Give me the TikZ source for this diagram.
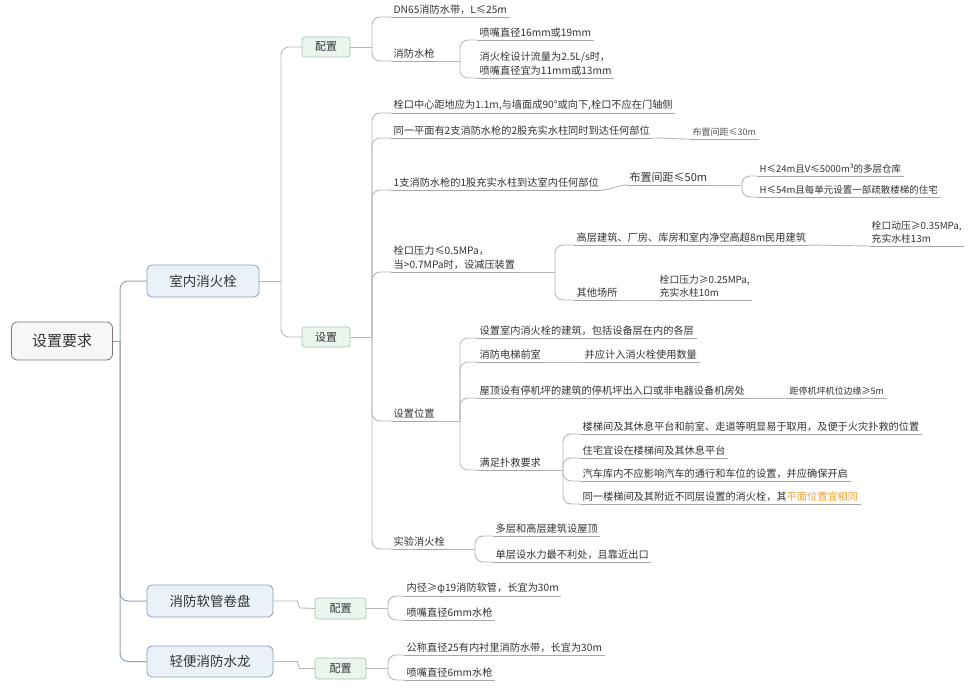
\documentclass[tikz,border=0pt]{standalone}
\usepackage{fontspec}
\setmainfont{Noto Sans CJK SC}
\definecolor{txt}{HTML}{333333}
\definecolor{txt2}{HTML}{555555}
\definecolor{orng}{HTML}{F0A23A}
\definecolor{ulc}{HTML}{A8A8A8}
\definecolor{brc}{HTML}{B8B8B8}
\definecolor{trc}{HTML}{8FA3B8}
\definecolor{rootc}{HTML}{7A7A7A}
\definecolor{rootf}{HTML}{F7F7F7}
\definecolor{l1c}{HTML}{8C9FB4}
\definecolor{l1f}{HTML}{EBF1F8}
\definecolor{l2c}{HTML}{A9C6B0}
\definecolor{l2f}{HTML}{EAF5ED}
\begin{document}
\begin{tikzpicture}[x=1pt,y=-1pt,
  every node/.style={text=txt},
  uline/.style={draw=ulc, line width=0.8pt},
  leaf/.style={anchor=south west, inner xsep=2.5pt, inner ysep=2.5pt,
     font=\fontsize{10.2}{14}\selectfont, align=left,
     append after command={(\tikzlastnode.south west) edge[uline] (\tikzlastnode.south east)}},
  br/.style={draw=brc, line width=0.9pt, rounded corners=8pt},
  trunk/.style={draw=trc, line width=1pt, rounded corners=8pt},
  rootbox/.style={draw=rootc, fill=rootf, rounded corners=6pt, line width=0.8pt,
     minimum width=101pt, minimum height=38pt, font=\fontsize{15}{18}\selectfont},
  l1box/.style={draw=l1c, fill=l1f, rounded corners=5pt, line width=0.8pt,
     minimum height=32pt, font=\fontsize{13.5}{16}\selectfont},
  l2box/.style={draw=l2c, fill=l2f, rounded corners=3pt, line width=0.7pt,
     minimum width=48pt, minimum height=20pt, font=\fontsize{11}{13}\selectfont},
]
\fill[white] (0,0) rectangle (974,698);
\useasboundingbox (0,0) rectangle (974,698);

% boxes
\node[rootbox] (root) at (62,341) {设置要求};
\node[l1box, minimum width=112pt] (snx) at (203,281) {室内消火栓};
\node[l1box, minimum width=126pt] (rgj) at (210,601) {消防软管卷盘};
\node[l1box, minimum width=126pt, minimum height=31pt] (qbs) at (210,661.5) {轻便消防水龙};
\node[l2box] (pz1) at (326,47) {配置};
\node[l2box] (sz) at (326,337) {设置};
\node[l2box, minimum width=51pt, minimum height=21pt] (pz2) at (340.5,608.5) {配置};
\node[l2box, minimum width=51pt, minimum height=21pt] (pz3) at (340.5,668.5) {配置};

% trunk
\draw[trunk] (root.east) -- (120,341);
\draw[trunk] (120,341) |- (snx.west);
\draw[trunk] (120,341) |- (rgj.west);
\draw[trunk] (120,341) |- (qbs.west);

\draw[br] (snx.east) -- (281,281);
\draw[br] (281,281) |- (pz1.west);
\draw[br] (281,281) |- (sz.west);

\draw[br] (rgj.east) -- ++(16,0) to[out=0,in=180] ++(18,7) -- (pz2.west);
\draw[br] (qbs.east) -- ++(16,0) to[out=0,in=180] ++(18,7) -- (pz3.west);

% 配置 (top)
\draw[br] (pz1.east) -- (372,47);
\node[leaf] (a1) at (391,17) {DN65消防水带，L≤25m};
\node[leaf] (a2) at (391,61) {消防水枪};
\draw[br] (372,47) |- (a1.south west);
\draw[br] (372,47) |- (a2.south west);
\draw[br] (a2.south east) -- (460,61);
\node[leaf] (a21) at (477,40) {喷嘴直径16mm或19mm};
\node[leaf] (a22) at (477,78) {消火栓设计流量为2.5L/s时，\\喷嘴直径宜为11mm或13mm};
\draw[br] (460,61) |- (a21.south west);
\draw[br] (460,61) |- (a22.south west);

% 设置
\draw[br] (sz.east) -- (372,337);
\node[leaf] (b1) at (391,113) {栓口中心距地应为1.1m,与墙面成90°或向下,栓口不应在门轴侧};
\node[leaf] (b2) at (391,138) {同一平面有2支消防水枪的2股充实水柱同时到达任何部位};
\node[leaf, font=\fontsize{9}{11}\selectfont, text=txt2] (b21) at (690,139) {布置间距≤30m};
\draw[br] (b2.south east) to[out=0,in=180] (b21.south west);
\node[leaf] (b3) at (391,190) {1支消防水枪的1股充实水柱到达室内任何部位};
\node[leaf, font=\fontsize{11}{13}\selectfont] (b31) at (627,185) {布置间距≤50m};
\draw[br] (b3.south east) to[out=0,in=180] (b31.south west);
\draw[br] (b31.south east) -- (742,185);
\node[leaf, font=\fontsize{9.5}{12}\selectfont] (b311) at (757,176) {H≤24m且V≤5000m³的多层仓库};
\node[leaf, font=\fontsize{9.5}{12}\selectfont] (b312) at (757,197) {H≤54m且每单元设置一部疏散楼梯的住宅};
\draw[br] (742,185) |- (b311.south west);
\draw[br] (742,185) |- (b312.south west);

\node[leaf] (b4) at (391,272) {栓口压力≤0.5MPa，\\当>0.7MPa时，设减压装置};
\draw[br] (b4.south east) -- (555,272);
\node[leaf] (b41) at (574,245) {高层建筑、厂房、库房和室内净空高超8m民用建筑};
\node[leaf, font=\fontsize{9.8}{13}\selectfont] (b411) at (869,246) {栓口动压≥0.35MPa,\\充实水柱13m};
\draw[br] (b41.south east) -- (b411.south west);
\node[leaf] (b42) at (574,300) {其他场所};
\node[leaf, font=\fontsize{9.8}{13}\selectfont] (b421) at (657,300) {栓口压力≥0.25MPa,\\充实水柱10m};
\draw[br] (b42.south east) -- (b421.south west);
\draw[br] (555,272) |- (b41.south west);
\draw[br] (555,272) |- (b42.south west);

\node[leaf] (b5) at (391,421) {设置位置};
\draw[br] (b5.south east) -- (460,421);
\node[leaf] (b51) at (477,338) {设置室内消火栓的建筑，包括设备层在内的各层};
\node[leaf] (b52) at (477,362) {消防电梯前室};
\node[leaf] (b521) at (582,362) {并应计入消火栓使用数量};
\draw[br] (b52.south east) -- (b521.south west);
\node[leaf] (b53) at (477,398) {屋顶设有停机坪的建筑的停机坪出入口或非电器设备机房处};
\node[leaf, font=\fontsize{9}{11}\selectfont] (b531) at (787,398) {距停机坪机位边缘≥5m};
\draw[br] (b53.south east) -- (b531.south west);
\node[leaf] (b54) at (477,470) {满足扑救要求};
\draw[br] (460,421) |- (b51.south west);
\draw[br] (460,421) |- (b52.south west);
\draw[br] (460,421) |- (b53.south west);
\draw[br] (460,421) |- (b54.south west);
\draw[br] (b54.south east) -- (563,470);
\node[leaf] (b541) at (580,434) {楼梯间及其休息平台和前室、走道等明显易于取用，及便于火灾扑救的位置};
\node[leaf] (b542) at (580,458) {住宅宜设在楼梯间及其休息平台};
\node[leaf] (b543) at (580,481) {汽车库内不应影响汽车的通行和车位的设置，并应确保开启};
\node[leaf] (b544) at (580,504) {同一楼梯间及其附近不同层设置的消火栓，其\textcolor{orng}{平面位置宜相同}};
\draw[br] (563,470) |- (b541.south west);
\draw[br] (563,470) |- (b542.south west);
\draw[br] (563,470) |- (b543.south west);
\draw[br] (563,470) |- (b544.south west);

\node[leaf] (b6) at (391,549) {实验消火栓};
\draw[br] (b6.south east) -- (475,549);
\node[leaf] (b61) at (493,536) {多层和高层建筑设屋顶};
\node[leaf] (b62) at (493,562) {单层设水力最不利处，且靠近出口};
\draw[br] (475,549) |- (b61.south west);
\draw[br] (475,549) |- (b62.south west);

\draw[br] (372,337) |- (b1.south west);
\draw[br] (372,337) |- (b2.south west);
\draw[br] (372,337) |- (b3.south west);
\draw[br] (372,337) |- (b4.south west);
\draw[br] (372,337) |- (b5.south west);
\draw[br] (372,337) |- (b6.south west);

% bottom branches
\draw[br] (pz2.east) -- (388,608.5);
\node[leaf] (c1) at (404,596) {内径≥φ19消防软管，长宜为30m};
\node[leaf] (c2) at (404,620) {喷嘴直径6mm水枪};
\draw[br] (388,608.5) |- (c1.south west);
\draw[br] (388,608.5) |- (c2.south west);
\draw[br] (pz3.east) -- (388,668.5);
\node[leaf] (d1) at (404,655) {公称直径25有内衬里消防水带，长宜为30m};
\node[leaf] (d2) at (404,680) {喷嘴直径6mm水枪};
\draw[br] (388,668.5) |- (d1.south west);
\draw[br] (388,668.5) |- (d2.south west);
\end{tikzpicture}
\end{document}
